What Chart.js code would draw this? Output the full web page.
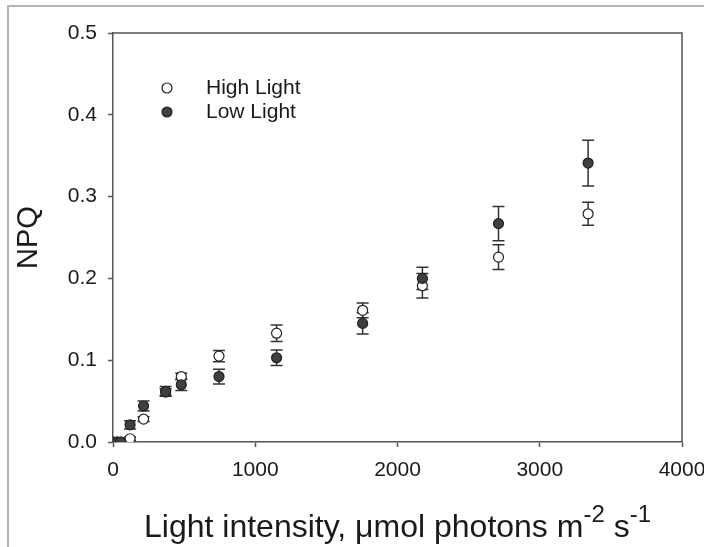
<!DOCTYPE html>
<html>
<head>
<meta charset="utf-8">
<script src="https://cdn.jsdelivr.net/npm/chart.js@4"></script>
<style>
  html, body { margin: 0; padding: 0; background: #fff; overflow: hidden; }
  #wrap { position: relative; width: 704px; height: 547px; }
  #frame { position: absolute; left: 7px; top: 5px; width: 800px; height: 700px; border: 2px solid #b4b4b4; pointer-events: none; }
</style>
</head>
<body>
<div id="wrap">
  <canvas id="npqChart" width="704" height="547"></canvas>
  <div id="frame"></div>
</div>
<script>
  // light intensities (µmol photons m-2 s-1)
  const lightX = [0, 30, 55, 120, 215, 370, 480, 745, 1150, 1755, 2175, 2710, 3340];
  const highNPQ = [0, 0, 0, 0.004, 0.028, 0.061, 0.080, 0.105, 0.133, 0.161, 0.191, 0.226, 0.279];
  const highErr = [0, 0, 0, 0.002, 0.003, 0.004, 0.004, 0.007, 0.010, 0.009, 0.015, 0.015, 0.014];
  const lowNPQ = [0, 0, 0, 0.021, 0.044, 0.062, 0.070, 0.080, 0.103, 0.145, 0.200, 0.267, 0.341];
  const lowErr = [0, 0, 0, 0.005, 0.006, 0.006, 0.007, 0.009, 0.0095, 0.013, 0.0135, 0.021, 0.028];
  const xTicks = [0, 1000, 2000, 3000, 4000];
  const yTicks = [0, 0.1, 0.2, 0.3, 0.4, 0.5];

  const FONT = "'Liberation Sans', Arial, sans-serif";
  const ink = '#1a1a1a';
  const axisColor = '#555';

  const errorBars = {
    id: 'errorBars',
    beforeDatasetsDraw(chart) {
      const ctx = chart.ctx;
      const xs = chart.scales.x, ys = chart.scales.y;
      ctx.save();
      ctx.strokeStyle = '#333';
      ctx.lineWidth = 1.5;
      chart.data.datasets.forEach(ds => {
        ds.data.forEach((p, i) => {
          const e = ds.errors[i];
          if (!e) return;
          const px = xs.getPixelForValue(p.x);
          const top = ys.getPixelForValue(p.y + e);
          const bot = ys.getPixelForValue(p.y - e);
          ctx.beginPath();
          ctx.moveTo(px, top); ctx.lineTo(px, bot);
          ctx.moveTo(px - 6, top); ctx.lineTo(px + 6, top);
          ctx.moveTo(px - 6, bot); ctx.lineTo(px + 6, bot);
          ctx.stroke();
        });
      });
      ctx.restore();
    }
  };

  const frameAndText = {
    id: 'frameAndText',
    afterDraw(chart) {
      const ctx = chart.ctx;
      const a = chart.chartArea;
      ctx.save();
      // top and right box lines
      ctx.strokeStyle = axisColor;
      ctx.lineWidth = 1.5;
      ctx.beginPath();
      ctx.moveTo(a.left, a.top); ctx.lineTo(a.right, a.top); ctx.lineTo(a.right, a.bottom);
      ctx.stroke();

      // legend
      const rows = [
        { label: 'High Light', fill: '#fff' },
        { label: 'Low Light', fill: '#3f3f3f' }
      ];
      ctx.font = '21px ' + FONT;
      ctx.textBaseline = 'middle';
      ctx.textAlign = 'left';
      rows.forEach((r, i) => {
        const y = 88 + i * 24;
        ctx.beginPath();
        ctx.arc(167, y, 5, 0, Math.PI * 2);
        ctx.fillStyle = r.fill;
        ctx.fill();
        ctx.lineWidth = 1.2;
        ctx.strokeStyle = '#222';
        ctx.stroke();
        ctx.fillStyle = ink;
        ctx.fillText(r.label, 206, y);
      });

      // x axis title with superscripts
      const parts = [
        { t: 'Light intensity, \u03bcmol photons m', sup: false },
        { t: '-2', sup: true },
        { t: ' s', sup: false },
        { t: '-1', sup: true }
      ];
      const mainFont = '32px ' + FONT, supFont = '24px ' + FONT;
      let total = 0;
      parts.forEach(p => { ctx.font = p.sup ? supFont : mainFont; p.w = ctx.measureText(p.t).width; total += p.w; });
      let x = (a.left + a.right) / 2 - total / 2;
      const base = 537;
      ctx.textBaseline = 'alphabetic';
      ctx.fillStyle = ink;
      parts.forEach(p => {
        ctx.font = p.sup ? supFont : mainFont;
        ctx.fillText(p.t, x, p.sup ? base - 15 : base);
        x += p.w;
      });
      ctx.restore();
    }
  };

  const ctx = document.getElementById('npqChart').getContext('2d');
  new Chart(ctx, {
    type: 'scatter',
    data: {
      datasets: [
        {
          label: 'High Light',
          data: lightX.map((x, i) => ({ x: x, y: highNPQ[i] })),
          errors: highErr,
          order: 2,
          pointRadius: 5,
          pointBackgroundColor: '#fff',
          pointBorderColor: '#222',
          pointBorderWidth: 1.2
        },
        {
          label: 'Low Light',
          data: lightX.map((x, i) => ({ x: x, y: lowNPQ[i] })),
          errors: lowErr,
          order: 1,
          pointRadius: 5,
          pointBackgroundColor: '#3f3f3f',
          pointBorderColor: '#222',
          pointBorderWidth: 1.2
        }
      ]
    },
    options: {
      responsive: false,
      animation: false,
      devicePixelRatio: 1,
      layout: { padding: { left: 0, right: 22, top: 33, bottom: 0 } },
      plugins: {
        legend: { display: false },
        tooltip: { enabled: false }
      },
      scales: {
        x: {
          type: 'linear',
          min: 0, max: 4000,
          afterBuildTicks: s => { s.ticks = xTicks.map(v => ({ value: v })); },
          afterFit: s => { s.height = 105; s.paddingLeft = 0; s.paddingRight = 0; },
          ticks: { color: ink, font: { family: FONT, size: 21 }, padding: 11, maxRotation: 0, callback: v => String(v) },
          grid: { drawOnChartArea: false, drawTicks: true, tickLength: 5, color: axisColor, tickWidth: 1.5 },
          border: { display: true, color: axisColor, width: 1.5 }
        },
        y: {
          type: 'linear',
          min: 0, max: 0.5,
          afterBuildTicks: s => { s.ticks = yTicks.map(v => ({ value: v })); },
          afterFit: s => { s.width = 113; s.paddingTop = 0; s.paddingBottom = 0; },
          ticks: { color: ink, font: { family: FONT, size: 21 }, padding: 11, callback: v => v.toFixed(1) },
          grid: { drawOnChartArea: false, drawTicks: true, tickLength: 5, color: axisColor, tickWidth: 1.5 },
          border: { display: true, color: axisColor, width: 1.5 },
          title: { display: true, text: 'NPQ', color: ink, font: { family: FONT, size: 29 }, padding: { top: 12, bottom: 0 } }
        }
      }
    },
    plugins: [errorBars, frameAndText]
  });
</script>
</body>
</html>
